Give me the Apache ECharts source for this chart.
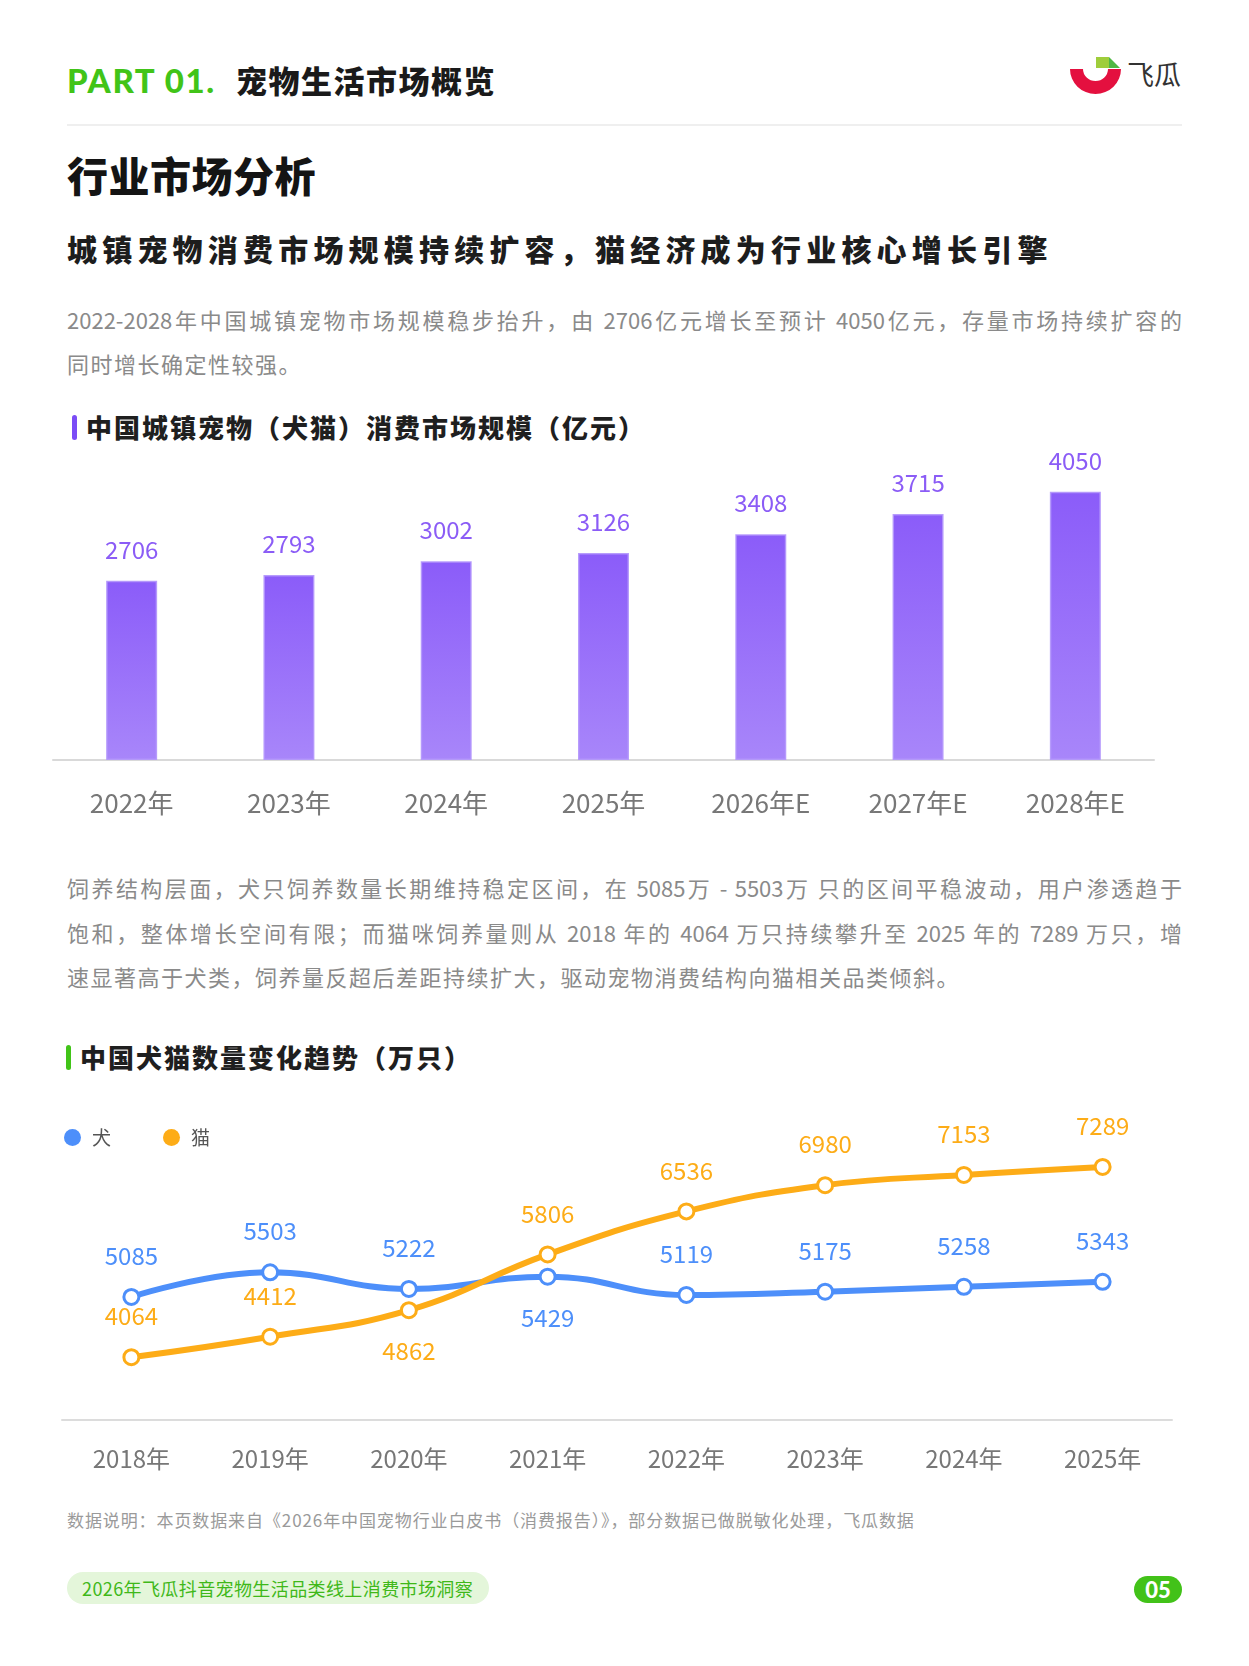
<!DOCTYPE html>
<html>
<head>
    <meta charset="utf-8">
    <title>宠物生活市场概览</title>
    <script src="https://cdn.jsdelivr.net/npm/echarts@6/dist/echarts.min.js"></script>
    <style>
        body { margin: 0; background: #fff; }
        .page {
            position: relative;
            width: 1249px;
            height: 1666px;
            overflow: hidden;
            font-family: "Noto Sans CJK SC", "Noto Sans", sans-serif;
            color: #222;
        }
        .abs { position: absolute; white-space: nowrap; }
        .part { left: 67px; top: 60px; font-family: Lato, "Noto Sans", sans-serif; font-weight: 900; font-size: 33px; letter-spacing: 1.6px; color: #41c418; line-height: 40px; }
        .part-cn { left: 236px; top: 60px; font-weight: 900; font-size: 31px; line-height: 40px; color: #1a1a1a; letter-spacing: 1.5px; }
        .sep { left: 67px; top: 124px; width: 1115px; height: 2px; background: #efefef; }
        .h1 { left: 67px; top: 149px; font-size: 41px; font-weight: 900; line-height: 50px; color: #141414; letter-spacing: 0.5px; }
        .h2 { left: 67px; top: 228px; font-size: 30px; font-weight: 900; line-height: 40px; letter-spacing: 5.2px; color: #1d1d1d; }
        .para { left: 67px; width: 1115px; font-size: 22px; color: #8a8a8a; line-height: 30px; letter-spacing: 1.5px; }
        .para .j { text-align: justify; text-align-last: justify; white-space: nowrap; letter-spacing: 0; }
        .ctitle { left: 72px; font-size: 26px; font-weight: 900; line-height: 30px; color: #1f1f1f; letter-spacing: 2px; padding-left: 14px; }
        .ctitle i { position: absolute; left: 0; top: 3px; width: 5px; height: 25px; border-radius: 3px; }
        .note { left: 67px; top: 1508px; font-size: 17px; color: #9a9a9a; line-height: 24px; letter-spacing: 0.9px; }
        .pill { left: 67px; top: 1572px; height: 32px; line-height: 32px; padding: 0 16px 0 15px; border-radius: 16px; background: #e4f6da; color: #3fb819; font-size: 18px; letter-spacing: 0.4px; }
        .pno { left: 1134px; top: 1576px; width: 48px; height: 27px; line-height: 27px; border-radius: 14px; background: #42c219; color: #fff; font-weight: 900; font-size: 22px; text-align: center; font-family: Lato, sans-serif; }
        #chart1 { position: absolute; left: 0; top: 450px; width: 1249px; height: 400px; }
        #chart2 { position: absolute; left: 0; top: 1090px; width: 1249px; height: 400px; }
    </style>
</head>
<body>
<div class="page">
    <div class="abs part">PART 01.</div>
    <div class="abs part-cn">宠物生活市场概览</div>
    <svg class="abs" style="left:1066px;top:52px" width="120" height="46" viewBox="0 0 120 46">
        <path d="M4 17 A25.5 25 0 0 0 55 17 L42 17 A12.5 12 0 0 1 17 17 Z" fill="#e4103f"/>
        <rect x="30" y="5" width="13" height="11" fill="#9fcd3b"/>
        <path d="M43 5 L54 16 L43 16 Z" fill="#4fb845"/>
        <text x="61" y="33" font-size="27" font-weight="400" fill="#333" font-family="Noto Sans CJK SC">飞瓜</text>
    </svg>
    <div class="abs sep"></div>
    <div class="abs h1">行业市场分析</div>
    <div class="abs h2">城镇宠物消费市场规模持续扩容，猫经济成为行业核心增长引擎</div>

    <div class="abs para" style="top:304px">
        <div class="j" style="height:44px">2022-2028年中国城镇宠物市场规模稳步抬升，由 2706亿元增长至预计 4050亿元，存量市场持续扩容的</div>
        <div>同时增长确定性较强。</div>
    </div>

    <div class="abs ctitle" style="top:412px"><i style="background:#7b4cf6"></i>中国城镇宠物（犬猫）消费市场规模（亿元）</div>
    <div id="chart1"></div>

    <div class="abs para" style="top:872px">
        <div class="j" style="height:44.5px">饲养结构层面，犬只饲养数量长期维持稳定区间，在 5085万 - 5503万 只的区间平稳波动，用户渗透趋于</div>
        <div class="j" style="height:44.5px">饱和，整体增长空间有限；而猫咪饲养量则从 2018 年的 4064 万只持续攀升至 2025 年的 7289 万只，增</div>
        <div>速显著高于犬类，饲养量反超后差距持续扩大，驱动宠物消费结构向猫相关品类倾斜。</div>
    </div>

    <div class="abs ctitle" style="top:1042px;left:66px"><i style="background:#41c418"></i>中国犬猫数量变化趋势（万只）</div>
    <div id="chart2"></div>

    <div class="abs note">数据说明：本页数据来自《2026年中国宠物行业白皮书（消费报告）》，部分数据已做脱敏化处理，飞瓜数据</div>
    <div class="abs pill">2026年飞瓜抖音宠物生活品类线上消费市场洞察</div>
    <div class="abs pno">05</div>
</div>

<script>
    // 市场规模（亿元）
    var barYears = ['2022年', '2023年', '2024年', '2025年', '2026年E', '2027年E', '2028年E'];
    var marketSize = [2706, 2793, 3002, 3126, 3408, 3715, 4050];

    // 犬猫数量（万只）
    var petYears = ['2018年', '2019年', '2020年', '2021年', '2022年', '2023年', '2024年', '2025年'];
    var dogCount = [5085, 5503, 5222, 5429, 5119, 5175, 5258, 5343];
    var catCount = [4064, 4412, 4862, 5806, 6536, 6980, 7153, 7289];

    // 标签放在点下方的年份序号
    var dogBelow = [3];
    var catBelow = [2];

    var fontCN = '"Noto Sans CJK SC", sans-serif';
    var blue = '#4d8ffa';
    var orange = '#fdac17';

    var chart1 = echarts.init(document.getElementById('chart1'));
    chart1.setOption({
        animation: false,
        grid: { left: 53, right: 95, top: 12, bottom: 90 },
        xAxis: {
            type: 'category',
            data: barYears,
            axisLine: { lineStyle: { color: '#d9d9d9', width: 2 } },
            axisTick: { show: false },
            axisLabel: { color: '#777', fontSize: 26, margin: 30, fontFamily: fontCN }
        },
        yAxis: {
            type: 'value',
            min: 0,
            max: 4500,
            show: false
        },
        series: [{
            type: 'bar',
            data: marketSize,
            barWidth: 51,
            itemStyle: {
                color: new echarts.graphic.LinearGradient(0, 0, 0, 1, [
                    { offset: 0, color: '#8b5cf9' },
                    { offset: 1, color: '#a886fa' }
                ]),
                borderColor: 'rgba(178,150,252,0.9)',
                borderWidth: 1.5
            },
            label: {
                show: true,
                position: 'top',
                distance: 19,
                color: '#8b5cf6',
                fontSize: 24,
                fontFamily: fontCN
            }
        }]
    });

    function pointData(values, below) {
        return values.map(function (v, i) {
            if (below.indexOf(i) >= 0) {
                return { value: v, label: { position: 'bottom' } };
            }
            return v;
        });
    }

    function lineSeries(name, values, below, color) {
        return {
            name: name,
            type: 'line',
            smooth: 0.45,
            data: pointData(values, below),
            symbol: 'circle',
            symbolSize: 15,
            lineStyle: { color: color, width: 6 },
            itemStyle: { color: '#fff', borderColor: color, borderWidth: 3 },
            label: {
                show: true,
                position: 'top',
                distance: 20,
                color: color,
                fontSize: 24,
                fontFamily: fontCN
            }
        };
    }

    var chart2 = echarts.init(document.getElementById('chart2'));
    chart2.setOption({
        animation: false,
        legend: {
            left: 59,
            top: 33,
            icon: 'circle',
            itemWidth: 17,
            itemHeight: 17,
            itemGap: 52,
            textStyle: { color: '#555', fontSize: 19, fontFamily: fontCN, padding: [0, 0, 0, 6] },
            data: [
                { name: '犬', itemStyle: { color: blue, borderWidth: 0 } },
                { name: '猫', itemStyle: { color: orange, borderWidth: 0 } }
            ]
        },
        grid: { left: 62, right: 77, top: 35, bottom: 70 },
        xAxis: {
            type: 'category',
            data: petYears,
            axisLine: { lineStyle: { color: '#dcdcdc', width: 2 } },
            axisTick: { show: false },
            axisLabel: { color: '#777', fontSize: 24, margin: 27, fontFamily: fontCN }
        },
        yAxis: {
            type: 'value',
            min: 3000,
            max: 8000,
            show: false
        },
        series: [
            lineSeries('犬', dogCount, dogBelow, blue),
            lineSeries('猫', catCount, catBelow, orange)
        ]
    });
</script>
</body>
</html>
